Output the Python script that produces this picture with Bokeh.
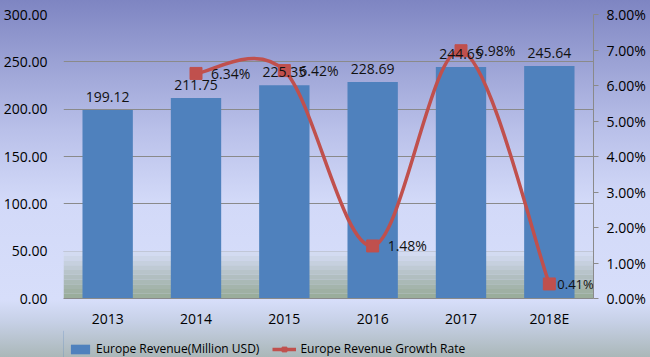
from bokeh.plotting import figure
from bokeh.layouts import column
from bokeh.models import (Range1d, LinearAxis, SingleIntervalTicker, FixedTicker,
                          PrintfTickFormatter, ColumnDataSource, LabelSet, Label, Legend,
                          LegendItem, BoxAnnotation)
from bokeh.core.properties import value
from bokeh.embed import file_html
from bokeh.resources import INLINE

# ---- data ----
years = ["2013", "2014", "2015", "2016", "2017", "2018E"]
revenue = [199.12, 211.75, 225.35, 228.69, 244.65, 245.64]
growth_years = ["2014", "2015", "2016", "2017", "2018E"]
growth = [6.34, 6.42, 1.48, 6.98, 0.41]  # percent
revenue_labels = ["199.12", "211.75", "225.35", "228.69", "244.65", "245.64"]
growth_labels = ["6.34%", "6.42%", "1.48%", "6.98%", "0.41%"]
series_names = ["Europe Revenue(Million USD)", "Europe Revenue Growth Rate"]

FONT = "Open Sans"
BAR = "#4f81bd"
RED = "#c0504d"

xpos = [years.index(y) + 0.5 for y in years]
gx = [years.index(y) + 0.5 for y in growth_years]

p = figure(width=650, height=330, output_backend="svg", toolbar_location=None,
           x_range=Range1d(0, len(years)), y_range=Range1d(0, 300),
           min_border_left=63, min_border_right=57, min_border_top=14, min_border_bottom=31)
p.extra_y_ranges = {"pct": Range1d(0, 8)}
p.border_fill_color = None
p.background_fill_color = None
p.outline_line_color = None

# green band at bottom of plot area
band_cols = ["#d3dbf1", "#cdd6e8", "#c6d0de", "#bfcad4", "#b8c4ca", "#b1bec0",
             "#aab9b6", "#a4b4ac", "#9fb0a3", "#9aad9b"]
for i, c in enumerate(band_cols):
    p.add_layout(BoxAnnotation(top=50 - i * 5, bottom=50 - (i + 1) * 5, fill_color=c,
                               fill_alpha=1, line_color=None, level="underlay"))

# axes
p.xgrid.grid_line_color = None
p.ygrid.grid_line_color = "#8a8a8a"
p.ygrid.ticker = SingleIntervalTicker(interval=50)

p.yaxis.ticker = SingleIntervalTicker(interval=50)
p.yaxis.formatter = PrintfTickFormatter(format="%.2f")
p.yaxis.axis_line_color = None
p.yaxis.major_tick_line_color = None
p.yaxis.minor_tick_line_color = None
p.yaxis.major_tick_out = 0
p.yaxis.major_tick_in = 0
p.yaxis.minor_tick_out = 0
p.yaxis.major_label_standoff = 16

p.xaxis.ticker = FixedTicker(ticks=xpos)
p.xaxis.major_label_overrides = {x: y for x, y in zip(xpos, years)}
p.xaxis.axis_line_color = "#8a8a8a"
p.xaxis.major_tick_line_color = None
p.xaxis.minor_tick_line_color = None
p.xaxis.major_tick_out = 0
p.xaxis.major_tick_in = 0
p.xaxis.minor_tick_out = 0
p.xaxis.major_label_standoff = 10

ry = LinearAxis(y_range_name="pct", ticker=SingleIntervalTicker(interval=1),
                formatter=PrintfTickFormatter(format="%.2f%%"))
ry.axis_line_color = "#8a8a8a"
ry.major_tick_line_color = "#8a8a8a"
ry.major_tick_out = 5
ry.major_tick_in = 0
ry.minor_tick_line_color = None
ry.minor_tick_out = 0
ry.major_label_standoff = 8
p.add_layout(ry, "right")

for ax in [p.xaxis[0], p.yaxis[0], ry]:
    ax.major_label_text_font = FONT
    ax.major_label_text_font_size = "14px"
    ax.major_label_text_color = "#000000"

# bars
bsrc = ColumnDataSource(dict(x=xpos, top=revenue, lab=revenue_labels))
bars = p.vbar(x="x", top="top", width=0.57, source=bsrc, fill_color=BAR, line_color=None)
p.add_layout(LabelSet(x="x", y="top", text="lab", source=bsrc, y_offset=8,
                      text_align="center", text_baseline="bottom",
                      text_font=value(FONT), text_font_size=value("14px"),
                      text_color="#111111"))

# smooth growth line (Catmull-Rom as cubic Bezier)
n = len(gx)
x0s, y0s, x1s, y1s, cx0s, cy0s, cx1s, cy1s = [], [], [], [], [], [], [], []
for i in range(n - 1):
    pm = i - 1 if i > 0 else i
    pp = i + 2 if i + 2 < n else i + 1
    tx0 = (gx[i + 1] - gx[pm]) / 2
    ty0 = (growth[i + 1] - growth[pm]) / 2
    tx1 = (gx[pp] - gx[i]) / 2
    ty1 = (growth[pp] - growth[i]) / 2
    x0s.append(gx[i]); y0s.append(growth[i])
    x1s.append(gx[i + 1]); y1s.append(growth[i + 1])
    cx0s.append(gx[i] + tx0 / 3); cy0s.append(growth[i] + ty0 / 3)
    cx1s.append(gx[i + 1] - tx1 / 3); cy1s.append(growth[i + 1] - ty1 / 3)
curve = p.bezier(x0=x0s, y0=y0s, x1=x1s, y1=y1s, cx0=cx0s, cy0=cy0s, cx1=cx1s, cy1=cy1s,
                 line_color=RED, line_width=3.5, y_range_name="pct")
gsrc = ColumnDataSource(dict(x=gx, y=growth))
marks = p.scatter(x="x", y="y", source=gsrc, marker="square", size=12, fill_color=RED,
                  line_color=RED, y_range_name="pct")
lsrc = ColumnDataSource(dict(x=gx[:-1], y=growth[:-1], lab=growth_labels[:-1]))
p.add_layout(LabelSet(x="x", y="y", text="lab", source=lsrc, x_offset=15, y_range_name="pct",
                      text_align="left", text_baseline="middle",
                      text_font=value(FONT), text_font_size=value("14px"),
                      text_color="#111111"))
# last label kept inside the frame (frame clips annotations)
p.add_layout(Label(x=gx[-1], y=growth[-1], text=growth_labels[-1], x_offset=8,
                   y_range_name="pct", text_align="left", text_baseline="middle",
                   text_font=FONT, text_font_size="13px", text_color="#111111"))

# legend strip (separate small figure below the chart)
lf = figure(width=650, height=27, output_backend="svg", toolbar_location=None,
            x_range=Range1d(0, 1), y_range=Range1d(0, 1), x_axis_type=None, y_axis_type=None,
            min_border=0)
lf.border_fill_color = None
lf.background_fill_color = None
lf.outline_line_color = None
lf.grid.grid_line_color = None
# proxy renderers, placed outside the visible range, only to supply legend glyphs
lbar = lf.vbar(x=[-5], top=[1], width=0.1, fill_color=BAR, line_color=None)
lline = lf.line(x=[-5, -4], y=[0.5, 0.5], line_color=RED, line_width=3.5)
lmark = lf.scatter(x=[-5], y=[0.5], marker="square", size=12, fill_color=RED, line_color=RED)
legend = Legend(items=[LegendItem(label=series_names[0], renderers=[lbar]),
                       LegendItem(label=series_names[1], renderers=[lline, lmark])],
                orientation="horizontal", location=(5, 0), margin=0, padding=0,
                spacing=13, glyph_width=24, glyph_height=12, label_standoff=4,
                background_fill_alpha=0, border_line_color=None,
                label_text_font=FONT, label_text_font_size="12px", label_text_color="#000000")
lf.add_layout(legend, "center")

layout = column(p, lf, spacing=0,
                styles={"background": "linear-gradient(to bottom, #7e85c2 0px, #9aa1d4 60px, "
                                      "#b9c0e9 130px, #d2d9f8 200px, #d7defa 300px, "
                                      "#c6d0e6 322px, #aab7b8 357px)"})

open("out.html", "w").write(file_html(layout, INLINE))
